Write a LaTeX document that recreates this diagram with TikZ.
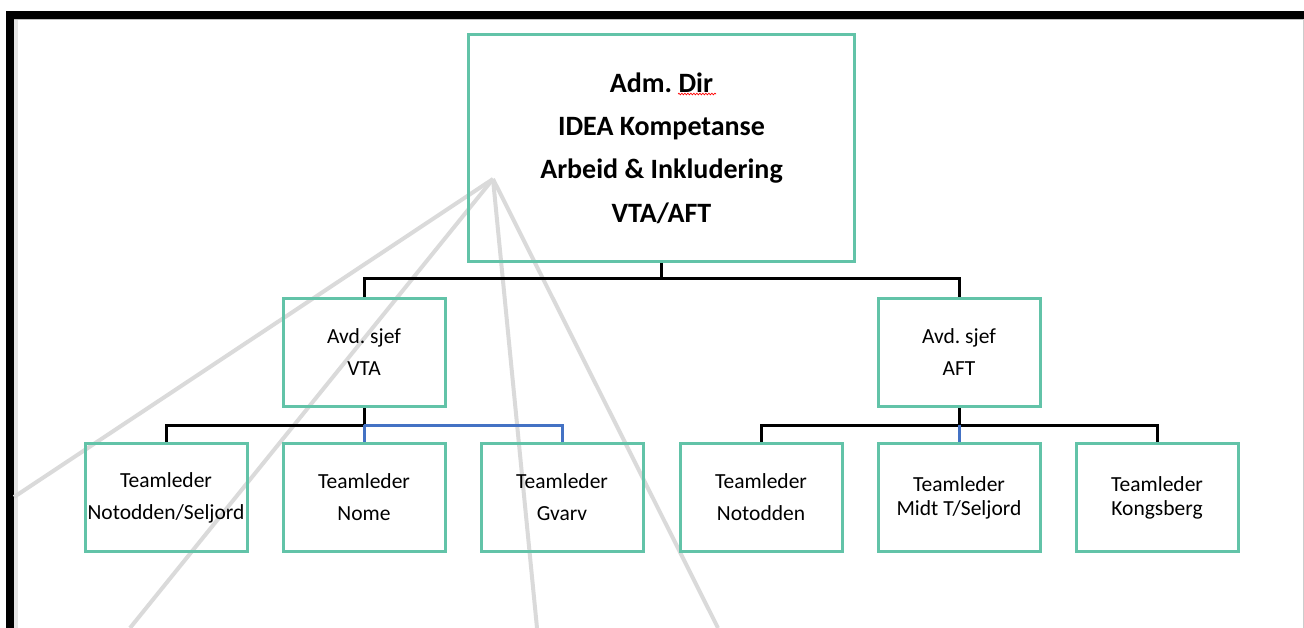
\documentclass[tikz,border=0pt]{standalone}
\usepackage{fontspec}
\setmainfont{Carlito}
\usetikzlibrary{positioning,decorations.pathmorphing}
\definecolor{boxteal}{RGB}{98,195,168}
\definecolor{linkblue}{RGB}{68,114,196}
\definecolor{raygray}{RGB}{218,218,218}
\frenchspacing
\begin{document}
\begin{tikzpicture}[x=1pt,y=-1pt,
org-box/.style = {draw={boxteal}, line width=3pt, minimum width=162pt, minimum height=108pt,
  inner sep=0pt, align=center, font=\fontsize{21.5}{32}\selectfont},
top-box/.style = {org-box, minimum width=386pt, minimum height=227pt,
  font=\fontsize{28}{43.3}\selectfont\bfseries},
tight-box/.style = {org-box, font=\fontsize{21.5}{24}\selectfont},
org-line/.style = {draw=black, line width=3pt},
blue-line/.style = {draw={linkblue}, line width=3pt},
ray-line/.style = {draw={raygray}, line width=4pt}
]
\useasboundingbox (0,0) rectangle (1304,628);
% screen frame
\fill[black] (6,11) rectangle (1304,19);
\fill[black] (6,11) rectangle (14,628);
\fill[black!10] (14,19) rectangle (18,628);
\draw[black!25, line width=1pt] (14,19.5) -- (1304,19.5);
\draw[black!20, line width=1.5pt] (1303.5,19) -- (1303.5,628);
% gray rays
\coordinate (apex) at (493,179);
\coordinate (ray-a) at (14,497);
\coordinate (ray-b) at (130,628);
\coordinate (ray-c) at (537,628);
\coordinate (ray-d) at (718,628);
\draw[ray-line] (apex) -- (ray-a);
\draw[ray-line] (apex) -- (ray-b);
\draw[ray-line] (apex) -- (ray-c);
\draw[ray-line] (apex) -- (ray-d);
% boxes
\node[top-box] (dir) at (661.5,148) {Adm. Dir\\IDEA Kompetanse\\Arbeid \& Inkludering\\VTA/AFT};
\node[org-box] (vta) at (364,352.5) {Avd. sjef\\VTA};
\node[org-box] (aft) at (959,352.5) {Avd. sjef\\AFT};
\node[org-box] (tl-notsel) at (166,497.5) {Teamleder\\Notodden/Seljord};
\node[org-box] (tl-nome) at (364,497.5) {Teamleder\\Nome};
\node[org-box] (tl-gvarv) at (562,497.5) {Teamleder\\Gvarv};
\node[org-box] (tl-not) at (761,497.5) {Teamleder\\Notodden};
\node[tight-box] (tl-midt) at (959,497.5) {Teamleder\\Midt T/Seljord};
\node[tight-box] (tl-kong) at (1157,497.5) {Teamleder\\Kongsberg};
\draw[red, line width=0.7pt, decorate, decoration={snake, amplitude=0.8pt, segment length=3pt}]
    (678,94) -- (716,94);
% connectors
\draw[org-line] (dir.south) -- ++(0,16) coordinate (bus-top);
\draw[org-line] (bus-top) -| (vta.north);
\draw[org-line] (bus-top) -| (aft.north);
\draw[org-line] (vta.south) -- ++(0,17) coordinate (bus-vta);
\draw[org-line] (bus-vta) -| (tl-notsel.north);
\draw[blue-line] (bus-vta) -- (tl-nome.north);
\draw[blue-line] (bus-vta) -| (tl-gvarv.north);
\draw[org-line] (aft.south) -- ++(0,17) coordinate (bus-aft);
\draw[org-line] (bus-aft) -| (tl-not.north);
\draw[org-line] (bus-aft) -| (tl-kong.north);
\draw[blue-line] (bus-aft) -- (tl-midt.north);
\end{tikzpicture}
\end{document}
